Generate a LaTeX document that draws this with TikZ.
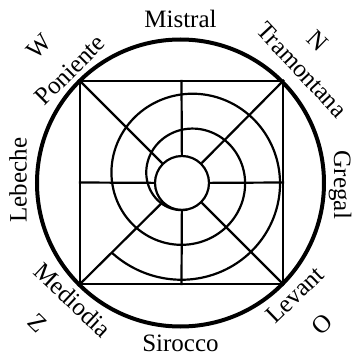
\documentclass[tikz,border=0pt]{standalone}
\usepackage{fontspec}
\setmainfont{Liberation Serif}
\begin{document}
\begin{tikzpicture}[x=1pt,y=1pt,line width=2.2pt,
  lbl/.style={font=\fontsize{25}{27}\selectfont,inner sep=0pt}]
\useasboundingbox (-180.5,-176) rectangle (172.5,183);
% rim, square and hub
\node[circle,draw,line width=4pt,minimum size=287pt,inner sep=0pt] (rim) at (0,0) {};
\node[draw,minimum size=203pt,inner sep=0pt] (sq) at (1,0.5) {};
\node[circle,draw,minimum size=54pt,inner sep=0pt] (hub) at (1.5,0) {};
% spokes
\foreach \d in {north,north east,east,south east,south,south west,west,north west}
  \draw (sq.\d) -- (hub);
% spiral
\draw[line join=round] plot[smooth,domain=225:990,samples=240]
  ({6.5+(101.6-0.0972*(\x-270))*cos(\x)},{5+(101.6-0.0972*(\x-270))*sin(\x)});
% winds
\node[lbl] (mistral) at (90:164) {Mistral};
\node[lbl,rotate=-47] (tramontana) at (43:166) {Tramontana};
\node[lbl,rotate=-90] (gregal) at (-0.7:159.5) {Gregal};
\node[lbl,rotate=44] (levant) at (-44.4:160) {Levant};
\node[lbl] (sirocco) at (-90:160) {Sirocco};
\node[lbl,rotate=-43] (mediodia) at (-132.6:159) {Mediodia};
\node[lbl,rotate=90] (lebeche) at (179:162.5) {Lebeche};
\node[lbl,rotate=45] (poniente) at (134.4:158) {Poniente};
% cardinal letters
\node[lbl,rotate=-44] (n) at (46:198) {N};
\node[lbl,rotate=45] (o) at (-45:200) {O};
\node[lbl,rotate=-45] (z) at (-135.7:200) {Z};
\node[lbl,rotate=45] (w) at (136:196) {W};
\end{tikzpicture}
\end{document}
